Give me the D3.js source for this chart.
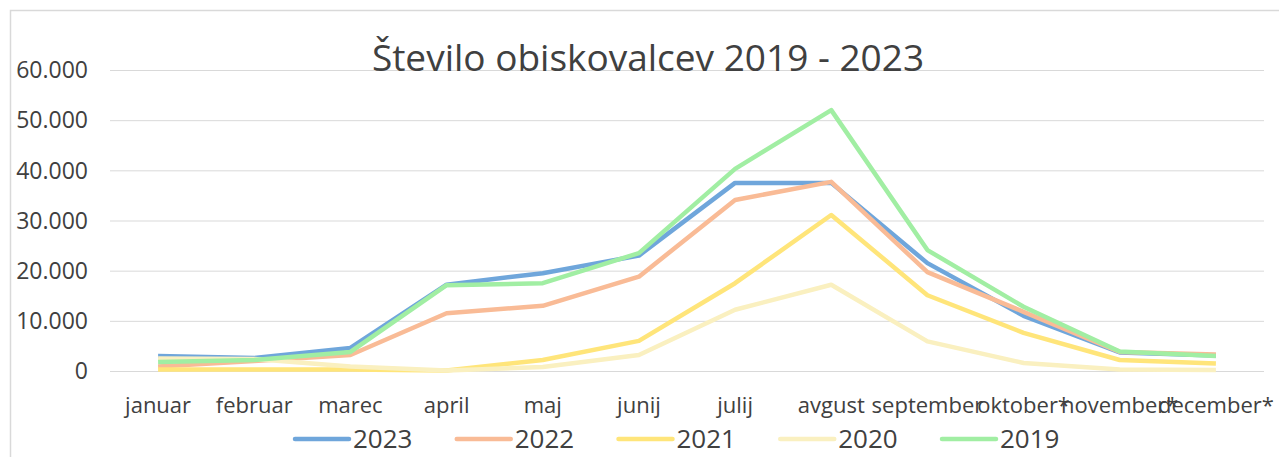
<!DOCTYPE html>
<html>
<head>
<meta charset="utf-8">
<script src="https://cdn.jsdelivr.net/npm/d3@7"></script>
<style>
  html, body { margin: 0; padding: 0; background: #fff; }
  svg text { font-family: "Open Sans", sans-serif; fill: #404040; }
</style>
</head>
<body>
<div id="chart"></div>
<script>
// Data
const months = ["januar", "februar", "marec", "april", "maj", "junij", "julij",
    "avgust", "september", "oktober*", "november*", "december*"];
const years = ["2023", "2022", "2021", "2020", "2019"];
const v2023 = [3000, 2600, 4600, 17200, 19500, 23000, 37500, 37500, 21500, 11000, 3700, 3100];
const v2022 = [900, 2000, 3200, 11500, 13000, 18800, 34100, 37700, 19700, 11800, 3800, 3300];
const v2021 = [300, 300, 300, 100, 2200, 6000, 17500, 31100, 15100, 7600, 2200, 1500];
const v2020 = [2500, 2400, 900, 100, 800, 3200, 12200, 17200, 5900, 1600, 300, 200];
const v2019 = [1800, 2200, 3800, 17100, 17500, 23500, 40300, 52000, 24100, 12800, 3900, 3000];
const yTicks = [0, 10000, 20000, 30000, 40000, 50000, 60000];

const seriesValues = [v2023, v2022, v2021, v2020, v2019];
const colors = ["#6fa6db", "#f9bb96", "#ffe57a", "#faf0c0", "#a1eea3"];

const width = 1279, height = 457;
const margin = { top: 70, right: 15, bottom: 86, left: 110 };
const innerWidth = width - margin.left - margin.right;
const innerHeight = height - margin.top - margin.bottom;

const svg = d3.select("#chart").append("svg")
    .attr("width", width)
    .attr("height", height);

// chart area frame (only top and left edges are visible)
svg.append("path")
    .attr("d", `M10.5,${height}V10.5H${width}`)
    .attr("fill", "none")
    .attr("stroke", "#d9d9d9")
    .attr("stroke-width", 1.5);

const g = svg.append("g")
    .attr("transform", `translate(${margin.left},${margin.top})`);

const x = d3.scaleBand().domain(months).range([0, innerWidth]);
const y = d3.scaleLinear().domain([0, 60000]).range([innerHeight, 0]);

const sl = d3.formatLocale({ decimal: ",", thousands: ".", grouping: [3], currency: ["", " €"] });

// y axis + gridlines
const yAxis = g.append("g")
    .call(d3.axisLeft(y).tickValues(yTicks).tickSize(-innerWidth).tickPadding(22).tickFormat(sl.format(",")))
    .attr("font-size", 23)
    .attr("font-family", null);
yAxis.select(".domain").remove();
yAxis.selectAll(".tick line").attr("stroke", "#d9d9d9").attr("stroke-width", 1);
yAxis.selectAll(".tick text").attr("dy", "0.34em");

// x axis labels
const xAxis = g.append("g")
    .attr("transform", `translate(0,${innerHeight})`)
    .call(d3.axisBottom(x).tickSize(0).tickPadding(26))
    .attr("font-size", 22)
    .attr("font-family", null);
xAxis.select(".domain").remove();

// title
svg.append("text")
    .attr("x", 648)
    .attr("y", 71)
    .attr("text-anchor", "middle")
    .attr("font-size", 37)
    .text("Število obiskovalcev 2019 - 2023");

// lines
const line = d3.line()
    .x((d, i) => x(months[i]) + x.bandwidth() / 2)
    .y(d => y(d));

seriesValues.forEach((vals, i) => {
    g.append("path")
        .datum(vals)
        .attr("fill", "none")
        .attr("stroke", colors[i])
        .attr("stroke-width", 4.5)
        .attr("stroke-linejoin", "round")
        .attr("d", line);
});

// legend
const legend = svg.append("g").attr("transform", "translate(295,439)");
years.forEach((yr, i) => {
    const item = legend.append("g").attr("transform", `translate(${i * 161.75},0)`);
    item.append("line")
        .attr("x1", 0).attr("x2", 54)
        .attr("y1", 0).attr("y2", 0)
        .attr("stroke", colors[i])
        .attr("stroke-width", 4.5)
        .attr("stroke-linecap", "round");
    item.append("text")
        .attr("x", 58)
        .attr("y", 9)
        .attr("font-size", 26)
        .text(yr);
});
</script>
</body>
</html>
